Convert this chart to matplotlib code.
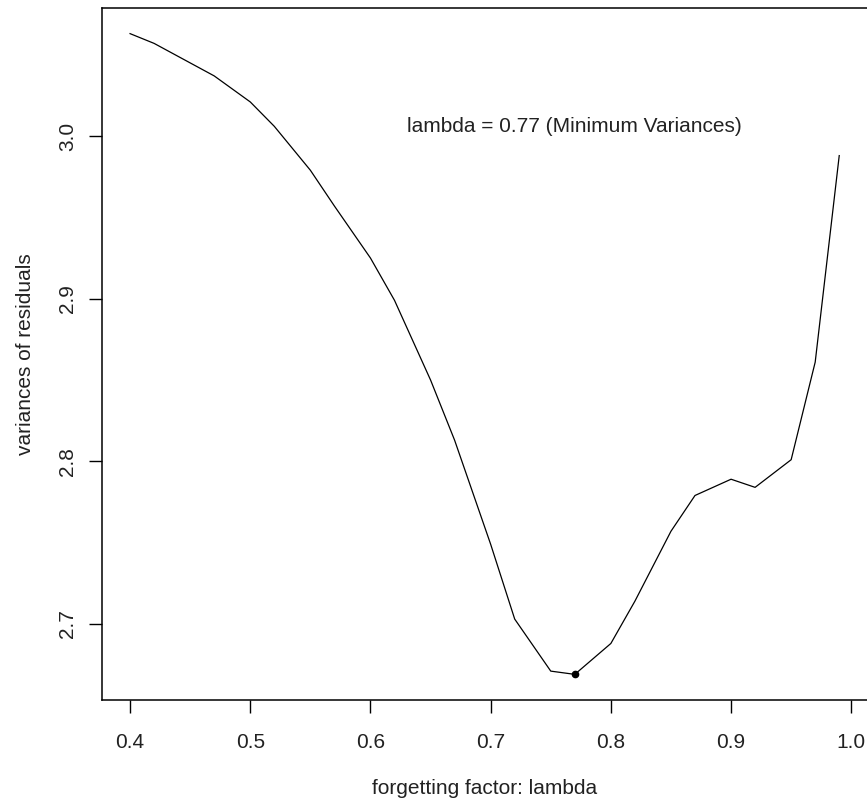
import matplotlib
matplotlib.use("Agg")
import matplotlib.pyplot as plt
import numpy as np

plt.rcParams['font.family'] = ['Liberation Sans', 'DejaVu Sans']

# forgetting factor values and residual variances
lambdas = [0.40, 0.42, 0.45, 0.47, 0.50, 0.52, 0.55, 0.57, 0.60, 0.62,
           0.65, 0.67, 0.70, 0.72, 0.75, 0.77, 0.80, 0.82, 0.85, 0.87,
           0.90, 0.92, 0.95, 0.97, 0.99]
variances = [3.063, 3.057, 3.045, 3.037, 3.021, 3.006, 2.979, 2.957, 2.925, 2.899,
             2.850, 2.813, 2.749, 2.703, 2.671, 2.669, 2.688, 2.714, 2.757, 2.779,
             2.789, 2.784, 2.801, 2.861, 2.988]
best_lambda = 0.77
best_var = 2.669

xticks = [0.4, 0.5, 0.6, 0.7, 0.8, 0.9, 1.0]
yticks = [2.7, 2.8, 2.9, 3.0]

W, H = 867, 801
fig = plt.figure(figsize=(W / 100, H / 100), dpi=100)
left, right, top, bottom = 101.7, 867.6, 8, 700
ax = fig.add_axes([left / W, 1 - bottom / H, (right - left) / W, (bottom - top) / H])

ax.plot(lambdas, variances, color='black', lw=0.9)
ax.plot([best_lambda], [best_var], 'o', color='black', ms=4.5)
ax.text(0.77, 3.006, 'lambda = 0.77 (Minimum Variances)', ha='center', va='center',
        fontsize=15, color='#222222')

# R style axis ranges (4% padding)
xr = max(lambdas) - min(lambdas)
yr = max(variances) - min(variances)
ax.set_xlim(min(lambdas) - 0.04 * xr, max(lambdas) + 0.04 * xr)
ax.set_ylim(min(variances) - 0.04 * yr, max(variances) + 0.04 * yr)

ax.set_xticks(xticks)
ax.set_xticklabels(['%.1f' % v for v in xticks])
ax.set_yticks(yticks)
ax.set_yticklabels(['%.1f' % v for v in yticks], rotation=90, va='center')
ax.tick_params(direction='out', length=9.5, width=1, labelsize=15, labelcolor='#222222')
ax.tick_params(axis='x', pad=14)
ax.tick_params(axis='y', pad=8)
for s in ax.spines.values():
    s.set_linewidth(1.1)

ax.set_xlabel('forgetting factor: lambda', fontsize=15, labelpad=20, color='#222222')
ax.set_ylabel('variances of residuals', fontsize=15, labelpad=17, color='#222222')

fig.savefig('out.png', dpi=100)
